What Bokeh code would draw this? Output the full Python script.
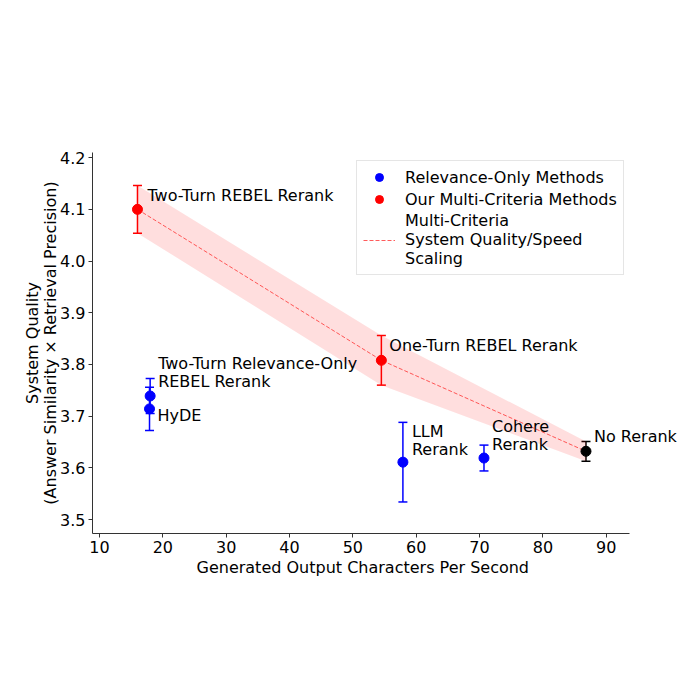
from bokeh.plotting import figure
from bokeh.models import (ColumnDataSource, Whisker, TeeHead, Legend, LegendItem,
                          Range1d, FixedTicker, NumeralTickFormatter, Label, Title)
from bokeh.embed import file_html
from bokeh.resources import INLINE

# Methods, throughput (chars/s), quality score and its error
methods = ["Two-Turn REBEL Rerank", "One-Turn REBEL Rerank", "No Rerank",
           "Two-Turn Relevance-Only\nREBEL Rerank", "HyDE", "LLM\nRerank", "Cohere\nRerank"]
speed = [16.0, 54.5, 86.8, 18.0, 17.9, 57.9, 70.7]
quality = [4.100, 3.808, 3.632, 3.739, 3.714, 3.611, 3.619]
error = [0.046, 0.048, 0.019, 0.034, 0.042, 0.077, 0.025]
group = ["multi", "multi", "baseline", "relevance", "relevance", "relevance", "relevance"]

x_ticks = [10, 20, 30, 40, 50, 60, 70, 80, 90]
y_ticks = [3.5, 3.6, 3.7, 3.8, 3.9, 4.0, 4.1, 4.2]

colors = {"multi": "#ff0000", "relevance": "#0000ff", "baseline": "#000000"}
FONT = "DejaVu Sans"
FS = "16px"
LH = 0.97

# x axis spine ends at X_END; the frame runs further right so labels are not cut off
X_START, X_END = 8.9, 93.7
p = figure(width=700, height=700, output_backend="svg", toolbar_location=None,
           x_range=Range1d(X_START, 103.3), y_range=Range1d(3.473, 4.21),
           min_border_left=92, min_border_right=10, min_border_top=152,
           min_border_bottom=167)
p.outline_line_color = None
p.xgrid.visible = False
p.ygrid.visible = False
p.background_fill_color = "white"
p.border_fill_color = "white"

# Shaded scaling band and dashed trend through the multi-criteria points + baseline
trend_idx = sorted([i for i, g in enumerate(group) if g != "relevance"], key=lambda i: speed[i])
tx = [speed[i] for i in trend_idx]
ty = [quality[i] for i in trend_idx]
tlo = [quality[i] - error[i] for i in trend_idx]
thi = [quality[i] + error[i] for i in trend_idx]
band_src = ColumnDataSource(dict(x=tx, y=ty, lo=tlo, hi=thi))
p.varea(x="x", y1="lo", y2="hi", source=band_src, fill_color="#ff0000", fill_alpha=0.13)
trend = p.line(x="x", y="y", source=band_src, line_color="#ff3333", line_alpha=0.8,
               line_width=1, line_dash="4 2")

# Error bars and markers per group
renderers = {}
for g in ["relevance", "multi", "baseline"]:
    idx = [i for i, gg in enumerate(group) if gg == g]
    src = ColumnDataSource(dict(
        x=[speed[i] for i in idx], y=[quality[i] for i in idx],
        lo=[quality[i] - error[i] for i in idx], hi=[quality[i] + error[i] for i in idx]))
    w = Whisker(base="x", lower="lo", upper="hi", source=src, dimension="height",
                line_color=colors[g], line_width=1.5,
                upper_head=TeeHead(size=9, line_color=colors[g], line_width=1.5),
                lower_head=TeeHead(size=9, line_color=colors[g], line_width=1.5))
    p.add_layout(w)
    renderers[g] = p.scatter(x="x", y="y", source=src, size=10, fill_color=colors[g],
                             line_color=colors[g])

# Point annotations: (dx, dy, baseline) in pixels
label_offsets = {
    "Two-Turn REBEL Rerank": (10, 4, "bottom"),
    "One-Turn REBEL Rerank": (8, 5, "bottom"),
    "No Rerank": (8, 5, "bottom"),
    "Two-Turn Relevance-Only\nREBEL Rerank": (8, 5, "bottom"),
    "HyDE": (8, -3, "top"),
    "LLM\nRerank": (9, 3, "bottom"),
    "Cohere\nRerank": (8, 4, "bottom"),
}
for m, xv, yv in zip(methods, speed, quality):
    dx, dy, base = label_offsets[m]
    p.add_layout(Label(x=xv, y=yv, text=m, x_offset=dx, y_offset=dy if base == "bottom" else -dy,
                       text_baseline=base, text_font=FONT, text_font_size=FS,
                       text_color="black", text_line_height=LH))

# Axes
for ax in (p.xaxis[0], p.yaxis[0]):
    ax.axis_line_color = "#333333"
    ax.major_tick_line_color = "#333333"
    ax.major_tick_out = 4
    ax.major_tick_in = 0
    ax.minor_tick_line_color = None
    ax.major_label_text_font = FONT
    ax.major_label_text_font_size = FS
    ax.major_label_text_color = "black"
    ax.axis_label_text_font = FONT
    ax.axis_label_text_font_size = FS
    ax.axis_label_text_font_style = "normal"
    ax.axis_label_text_color = "black"
    ax.axis_label_text_line_height = LH
p.xaxis.bounds = (X_START, X_END)
p.xaxis.ticker = FixedTicker(ticks=x_ticks)
p.yaxis.ticker = FixedTicker(ticks=y_ticks)
p.yaxis.formatter = NumeralTickFormatter(format="0.0")
p.yaxis.axis_label = "System Quality\n(Answer Similarity \u00d7 Retrieval Precision)"
p.yaxis.axis_label_standoff = -3
p.xaxis.major_label_standoff = 3
p.yaxis.major_label_standoff = 3

# x axis title, centred under the spine rather than the wider frame
p.add_layout(Title(text="Generated Output Characters Per Second", align="left", offset=104,
                   text_font=FONT, text_font_size=FS, text_font_style="normal",
                   text_color="black", standoff=0), "below")

legend = Legend(items=[
    LegendItem(label="Relevance-Only Methods", renderers=[renderers["relevance"]]),
    LegendItem(label="Our Multi-Criteria Methods", renderers=[renderers["multi"]]),
    LegendItem(label="Multi-Criteria\nSystem Quality/Speed\nScaling", renderers=[trend]),
], location=(264, 258))
legend.label_text_font = FONT
legend.label_text_font_size = FS
legend.label_text_color = "black"
legend.label_text_line_height = LH
legend.border_line_color = "#cccccc"
legend.border_line_width = 1
legend.background_fill_alpha = 1
legend.glyph_width = 32
legend.label_standoff = 10
legend.padding = 6
legend.spacing = 2
legend.margin = 0
p.add_layout(legend)

open("out.html", "w").write(file_html(p, INLINE))
